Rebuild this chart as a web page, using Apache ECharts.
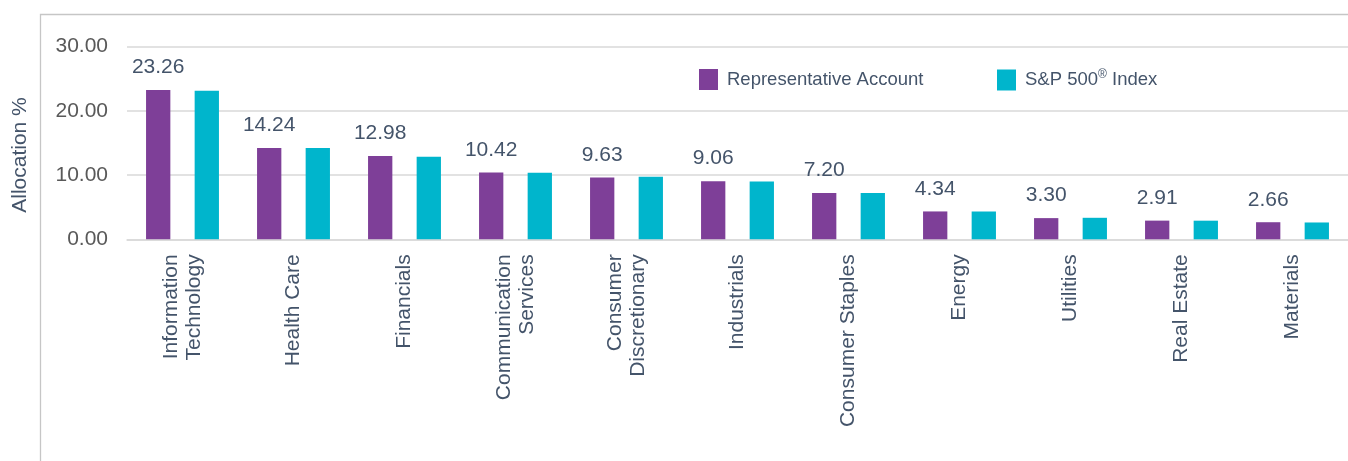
<!DOCTYPE html>
<html>
<head>
<meta charset="utf-8">
<script src="https://cdn.jsdelivr.net/npm/echarts@6/dist/echarts.min.js"></script>
<style>
html,body{margin:0;padding:0;background:#fff;}
#chart{width:1348px;height:461px;}
</style>
</head>
<body>
<div id="chart"></div>
<script>
const categories = ["Information\nTechnology","Health Care","Financials","Communication\nServices","Consumer\nDiscretionary","Industrials","Consumer Staples","Energy","Utilities","Real Estate","Materials"];
const accountValues = [23.26,14.24,12.98,10.42,9.63,9.06,7.20,4.34,3.30,2.91,2.66];
const indexValues = [23.13,14.22,12.85,10.35,9.75,9.00,7.20,4.33,3.35,2.90,2.62];
const seriesNames = ["Representative Account","S&P 500® Index"];
const yTicks = {min:0,max:30,interval:10};
const yAxisTitle = "Allocation %";

const slate = '#44546A';
const chart = echarts.init(document.getElementById('chart'), null, {renderer:'canvas'});
const legendBase = {
  orient:'horizontal', top:64, itemWidth:19, itemHeight:21, icon:'rect',
  textStyle:{color:slate,fontSize:18.5,fontFamily:'Liberation Sans, Arial, sans-serif',padding:[0,0,0,4],
    rich:{sup:{fontSize:12,color:slate,fontFamily:'Liberation Sans, Arial, sans-serif',padding:[0,0,10,0]}}}
};
chart.setOption({
  animation:false,
  backgroundColor:'#fff',
  graphic:[
    {type:'rect',shape:{x:40.5,y:14.5,width:1400,height:600},style:{fill:'none',stroke:'#C6C6C6',lineWidth:1.3},silent:true,z:0},
    {type:'text',x:20,y:155,rotation:Math.PI/2,style:{text:yAxisTitle,fill:slate,fontSize:21,fontFamily:'Liberation Sans, Arial, sans-serif',textAlign:'center',textVerticalAlign:'middle'}}
  ],
  legend:[
    Object.assign({},legendBase,{left:694,data:[seriesNames[0]]}),
    Object.assign({},legendBase,{left:992,data:[seriesNames[1]],formatter:function(n){return n.replace('®','{sup|®}');}})
  ],
  grid:{left:127,right:-10,top:46.7,bottom:221.7,containLabel:false},
  xAxis:{
    type:'category',data:categories,
    axisLine:{show:true,lineStyle:{color:'#D9D9D9',width:1.5}},
    axisTick:{show:false},
    axisLabel:{interval:0,rotate:90,fontSize:21,color:slate,margin:15,lineHeight:23,fontFamily:'Liberation Sans, Arial, sans-serif'}
  },
  yAxis:{
    type:'value',min:yTicks.min,max:yTicks.max,interval:yTicks.interval,
    axisLine:{show:false},axisTick:{show:false},
    splitLine:{lineStyle:{color:'#D9D9D9',width:1.5}},
    axisLabel:{color:'#595959',fontSize:21,margin:19,fontFamily:'Liberation Sans, Arial, sans-serif',formatter:function(v){return v.toFixed(2);}}
  },
  series:[
    {name:seriesNames[0],type:'bar',data:accountValues,barWidth:24.3,barGap:'100%',
     itemStyle:{color:'#7E3F98'},
     label:{show:true,position:'top',distance:12,color:slate,fontSize:21,fontFamily:'Liberation Sans, Arial, sans-serif',formatter:function(p){return p.value.toFixed(2);}}},
    {name:seriesNames[1],type:'bar',data:indexValues,barWidth:24.3,barGap:'100%',
     itemStyle:{color:'#00B5CC'}}
  ]
});
</script>
</body>
</html>
